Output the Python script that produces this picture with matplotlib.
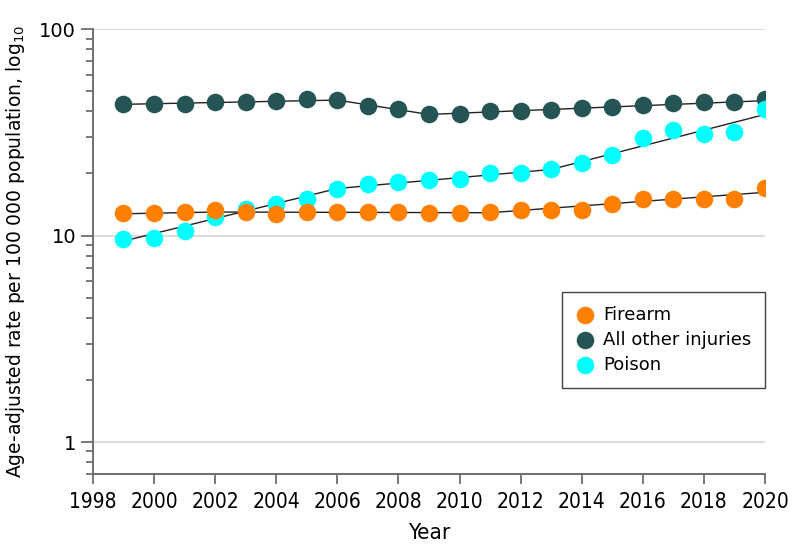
import numpy as np
import matplotlib

matplotlib.use("Agg")
import matplotlib.pyplot as plt
from matplotlib.ticker import LogLocator, NullFormatter, FixedLocator, FixedFormatter

years = list(range(1999, 2021))

firearm = [12.8, 12.8, 13.0, 13.3, 13.0, 12.65, 13.0, 12.95, 12.95, 13.0, 12.9,
           12.9, 12.95, 13.35, 13.35, 13.3, 14.25, 14.95, 15.1, 14.95, 14.95, 17.0]
all_other = [43.2, 43.2, 43.6, 44.1, 44.1, 44.6, 45.8, 45.2, 42.2, 40.9, 39.0,
             39.0, 40.1, 40.1, 40.6, 41.6, 41.8, 42.8, 43.7, 44.1, 44.4, 45.8]
poison = [9.6, 9.7, 10.5, 12.3, 13.4, 14.15, 14.95, 16.85, 17.8, 18.2, 18.5,
          18.85, 20.0, 20.15, 21.1, 22.5, 24.5, 29.8, 32.4, 30.9, 31.8, 41.2]

# joinpoint trend segments (year, fitted rate)
firearm_trend_x = [1999, 2002, 2011, 2020]
firearm_trend_y = [12.75, 13.0, 12.9, 16.2]
all_other_trend_x = [1999, 2006, 2009, 2020]
all_other_trend_y = [43.2, 45.3, 38.6, 45.0]
poison_trend_x = [1999, 2006, 2013, 2020]
poison_trend_y = [9.4, 16.9, 20.9, 38.6]

C_FIRE = "#FF7F00"
C_OTHER = "#245453"
C_POISON = "#00FFFF"
NARROW = dict(family=["Liberation Sans Narrow", "DejaVu Sans"], stretch="condensed")

fig = plt.figure(figsize=(7.94, 5.59), dpi=100)
ax = fig.add_axes([0.117, 0.152, 0.8465, 0.796])

ax.set_yscale("log")
ax.set_ylim(0.7, 100)
ax.set_xlim(1998, 2020)

for y in (1, 10, 100):
    ax.axhline(y, color="#dcdcdc", lw=1.5, zorder=0)

for tx, ty in ((all_other_trend_x, all_other_trend_y),
               (poison_trend_x, poison_trend_y),
               (firearm_trend_x, firearm_trend_y)):
    ax.plot(tx, ty, color="#222222", lw=1.0, zorder=2)

ms = 160
h_other = ax.scatter(years, all_other, s=ms, color=C_OTHER, zorder=3, linewidths=0, label="All other injuries")
h_poison = ax.scatter(years, poison, s=ms, color=C_POISON, zorder=4, linewidths=0, label="Poison")
h_fire = ax.scatter(years, firearm, s=ms, color=C_FIRE, zorder=5, linewidths=0, label="Firearm")

ax.yaxis.set_major_locator(FixedLocator([1, 10, 100]))
ax.yaxis.set_major_formatter(FixedFormatter(["1", "10", "100"]))
ax.yaxis.set_minor_locator(LogLocator(base=10, subs=np.arange(2, 10)))
ax.yaxis.set_minor_formatter(NullFormatter())
ax.set_xticks(range(1998, 2021, 2))

for s in ("top", "right"):
    ax.spines[s].set_visible(False)
for s in ("left", "bottom"):
    ax.spines[s].set_color("#6e6e6e")
    ax.spines[s].set_linewidth(1.4)

ax.tick_params(axis="y", which="major", length=9, width=1.3, color="#6e6e6e", labelsize=14, pad=3)
ax.tick_params(axis="y", which="minor", length=5, width=1.3, color="#6e6e6e")
ax.tick_params(axis="x", length=7, width=1.3, color="#6e6e6e", labelsize=15, pad=6)
for lbl in ax.get_xticklabels():
    lbl.set_family(NARROW["family"])
    lbl.set_stretch(NARROW["stretch"])

ax.set_xlabel("Year", fontsize=16, labelpad=8, **NARROW)
ax.set_ylabel("Age-adjusted rate per 100 000 population, log$_{10}$", fontsize=13.5, labelpad=9)

leg = ax.legend(handles=[h_fire, h_other, h_poison], loc="upper right",
                bbox_to_anchor=(1.0, 0.409), borderaxespad=0, fancybox=False,
                edgecolor="#444444", fontsize=13, handletextpad=0.45, handlelength=1.1,
                borderpad=0.75, labelspacing=0.4, scatterpoints=1, framealpha=1,
                markerscale=1.0)
leg.get_frame().set_linewidth(1.0)

fig.savefig("out.png", dpi=100)
